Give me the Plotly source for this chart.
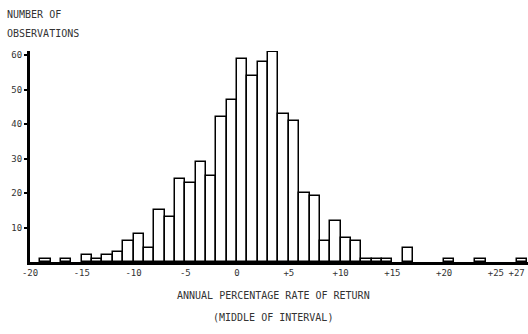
import plotly.graph_objects as go

# Start of each one-percent interval (annual % rate of return)
interval_start = [-19, -17, -15, -14, -13, -12, -11, -10, -9, -8, -7, -6, -5, -4, -3, -2, -1,
                  0, 1, 2, 3, 4, 5, 6, 7, 8, 9, 10, 11, 12, 13, 14, 16, 20, 23, 27]
# Number of observations in each interval
observations = [1, 1, 2, 1, 2, 3, 6, 8, 4, 15, 13, 24, 23, 29, 25, 42, 47,
                59, 54, 58, 61, 43, 41, 20, 19, 6, 12, 7, 6, 1, 1, 1, 4, 1, 1, 1]

x_tick_vals = [-20, -15, -10, -5, 0, 5, 10, 15, 20, 25, 27]
x_tick_text = ["-20", "-15", "-10", "-5", "0", "+5", "+10", "+15", "+20", "+25", "+27"]
y_tick_vals = [10, 20, 30, 40, 50, 60]
y_tick_text = ["10", "20", "30", "40", "50", "60"]

FONT = "DejaVu Sans Mono"
TXT = "#333333"

fig = go.Figure(go.Bar(
    x=interval_start, y=observations,
    width=1, offset=0,
    marker=dict(color="white", line=dict(color="black", width=1.5)),
))

fig.update_layout(
    width=528, height=334,
    margin=dict(l=30, r=0, t=51, b=72, autoexpand=False),
    paper_bgcolor="white", plot_bgcolor="white",
    showlegend=False, bargap=0,
    font=dict(family=FONT, size=9, color=TXT),
    xaxis=dict(range=[-20, 28.1], tickmode="array", tickvals=x_tick_vals, ticktext=x_tick_text,
               showgrid=False, zeroline=False, showline=True, linecolor="black", linewidth=3,
               ticks="", ticklen=0, automargin=False,
               tickfont=dict(size=9, color=TXT, family=FONT)),
    yaxis=dict(range=[0, 61.2], tickmode="array", tickvals=y_tick_vals, ticktext=y_tick_text,
               showgrid=False, zeroline=False, showline=True, linecolor="black", linewidth=3,
               ticks="outside", ticklen=3, tickwidth=2, tickcolor="black", automargin=False,
               tickfont=dict(size=9, color=TXT, family=FONT)),
    annotations=[
        dict(text="NUMBER OF", xref="paper", yref="paper", x=-0.0502, y=1.175,
             xanchor="left", yanchor="middle", showarrow=False, font=dict(size=10, color=TXT, family=FONT)),
        dict(text="OBSERVATIONS", xref="paper", yref="paper", x=-0.0502, y=1.085,
             xanchor="left", yanchor="middle", showarrow=False, font=dict(size=10, color=TXT, family=FONT)),
        dict(text="ANNUAL PERCENTAGE RATE OF RETURN", xref="paper", yref="paper", x=0.488, y=-0.161,
             xanchor="center", yanchor="middle", showarrow=False, font=dict(size=10, color=TXT, family=FONT)),
        dict(text="(MIDDLE OF INTERVAL)", xref="paper", yref="paper", x=0.488, y=-0.265,
             xanchor="center", yanchor="middle", showarrow=False, font=dict(size=10, color=TXT, family=FONT)),
    ],
)

fig.write_html(
    "out.html",
    config={"displayModeBar": False},
    post_script="document.body.style.margin='0';document.body.style.padding='0';"
                "document.documentElement.style.overflow='hidden';",
)
